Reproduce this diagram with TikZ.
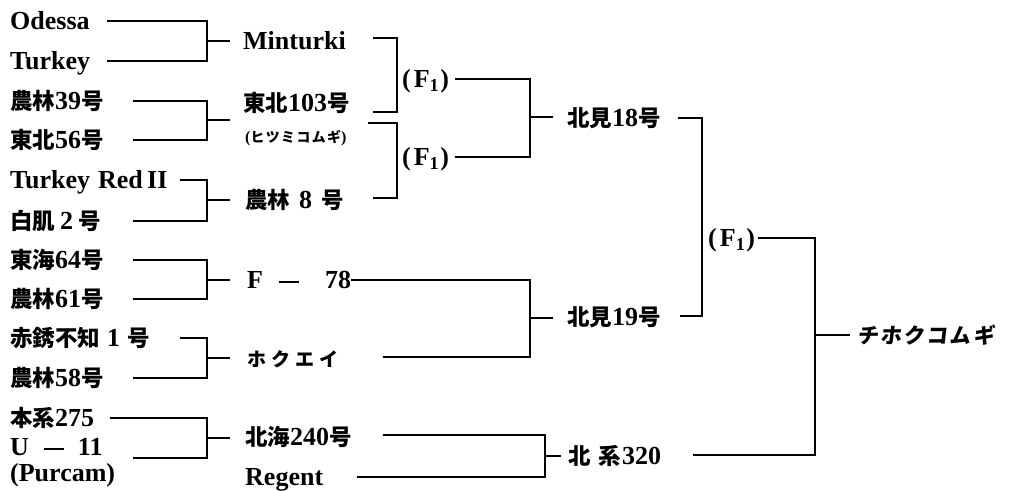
\documentclass[tikz,border=0pt]{standalone}
\usepackage{fontspec}
\setmainfont{Liberation Serif}
\newfontfamily\jp{Noto Sans CJK JP}[Scale=0.865]
\newfontfamily\jpsl{Noto Sans CJK JP}[Scale=0.865,FakeSlant=0.12]
\newcommand{\J}[1]{{\jp #1}}
\newcommand{\Fone}{(\hspace{3pt}F\textsubscript{1}\hspace{1pt})}
\begin{document}
\begin{tikzpicture}[x=1pt,y=-1pt,
  every node/.style={inner sep=0pt, anchor=west, text height=17pt, text depth=0pt,
    font=\fontsize{26}{30}\selectfont\bfseries},
  link/.style={line width=1.6pt, line join=miter},
  small/.style={text height=11pt, font=\fontsize{16}{18}\selectfont\bfseries},
  kata/.style={text height=16pt, font=\fontsize{22}{26}\selectfont\bfseries},
  katb/.style={text height=17pt, font=\fontsize{24.5}{28}\selectfont\bfseries}]
\useasboundingbox (0,0) rectangle (1011,490);

% ---- first column
\node (odessa) at (10,21)  {Odessa};
\node (turkey) at (10,61)  {Turkey};
\node (n39)    at (10,101) {\J{農林}39\J{号}};
\node (t56)    at (10,140) {\J{東北}56\J{号}};
\node (trd)    at (10,180) {Turkey\hspace{8pt}Red\,II};
\node (hk2)    at (10,221) {\J{白肌}\hspace{5pt}2\hspace{5pt}\J{号}};
\node (t64)    at (10,260) {\J{東海}64\J{号}};
\node (n61)    at (10,299) {\J{農林}61\J{号}};
\node (aks)    at (10,338) {\J{赤銹不知}\hspace{7pt}1\hspace{7pt}\J{号}};
\node (n58)    at (10,378) {\J{農林}58\J{号}};
\node (h275)   at (10,418) {\J{本系}275};
\node (u11)    at (10,447) {U\hspace{15pt}\rule[6pt]{20pt}{1.4pt}\hspace{14pt}11};
\node (purcam) at (10,473) {(Purcam)};

% ---- second column
\node (mint)    at (243,41)  {Minturki};
\node (t103)    at (243,103) {\J{東北}103\J{号}};
\node[small] (hitsumi) at (245,137) {(\J{ヒ\hspace{1.5pt}ツ\hspace{1.5pt}ミ\hspace{1.5pt}コ\hspace{1.5pt}ム\hspace{1.5pt}ギ})};
\node (n8)      at (245,200) {\J{農林}\hspace{9pt}8\hspace{9pt}\J{号}};
\node (f78)     at (247,280) {F\hspace{16pt}\rule[6pt]{20pt}{1.4pt}\hspace{26pt}78};
\node[kata] (hokuei) at (247,358) {\J{ホ\hspace{5pt}ク\hspace{5pt}エ\hspace{5pt}イ}};
\node (h240)    at (245,437) {\J{北海}240\J{号}};
\node (regent)  at (245,477) {Regent};

% ---- later columns
\node (f1a)   at (402,79)  {\Fone};
\node (f1b)   at (402,157) {\Fone};
\node (kit18) at (567,118) {\J{北見}18\J{号}};
\node (kit19) at (567,317) {\J{北見}19\J{号}};
\node (hk320) at (568,456) {\J{北}\hspace{8pt}\J{系}\hspace{1pt}320};
\node (f1c)   at (708,238) {\Fone};
\node[katb] (chiho) at (857,335) {{\jpsl チ\hspace{2pt}ホ\hspace{2pt}ク\hspace{2pt}コ\hspace{2pt}ム\hspace{2pt}ギ}};

% ---- named coordinates
\coordinate (xa) at (107,0);
\coordinate (xb) at (133,0);
\coordinate (xc) at (180,0);
\coordinate (xd) at (110,0);
\coordinate (pu) at (133,458);
\coordinate (j1) at (207,41);
\coordinate (j2) at (207,120);
\coordinate (j3) at (207,200);
\coordinate (j4) at (207,280);
\coordinate (j5) at (207,358);
\coordinate (j6) at (207,438);
\coordinate (a1) at (373,38);
\coordinate (a2) at (373,112);
\coordinate (jA) at (397,80);
\coordinate (b1) at (368,123);
\coordinate (b2) at (373,198);
\coordinate (jB) at (397,157);
\coordinate (jC) at (530,117);
\coordinate (d2) at (383,357);
\coordinate (jD) at (530,318);
\coordinate (e1) at (383,435);
\coordinate (e2) at (357,477);
\coordinate (jE) at (545,456);
\coordinate (k1) at (678,118);
\coordinate (k2) at (680,316);
\coordinate (jF) at (702,240);
\coordinate (g2) at (693,455);
\coordinate (jG) at (815,335);

% ---- first brackets
\draw[link] (odessa -| xa) -| (j1) |- (turkey -| xa);
\draw[link] (j1) -- ([xshift=-13pt]j1 -| mint.west);
\draw[link] (n39 -| xb) -| (j2) |- (t56 -| xb);
\draw[link] (j2) -- ([xshift=-13pt]j2 -| t103.west);
\draw[link] (trd -| xc) -| (j3) |- (hk2 -| xb);
\draw[link] (j3) -- ([xshift=-15pt]j3 -| n8.west);
\draw[link] (t64 -| xb) -| (j4) |- (n61 -| xb);
\draw[link] (j4) -- ([xshift=-17pt]j4 -| f78.west);
\draw[link] (aks -| xc) -| (j5) |- (n58 -| xb);
\draw[link] (j5) -- ([xshift=-17pt]j5 -| hokuei.west);
\draw[link] (h275 -| xd) -| (j6) |- (pu);
\draw[link] (j6) -- ([xshift=-15pt]j6 -| h240.west);

% ---- second brackets
\draw[link] (a1) -| (jA) |- (a2);
\draw[link] (b1) -| (jB) |- (b2);
\draw[link] ([xshift=6pt]f1a.east) -| (jC) |- ([xshift=6pt]f1b.east);
\draw[link] (jC) -- ([xshift=-14pt]jC -| kit18.west);
\draw[link] (f78.east) -| (jD) |- (d2);
\draw[link] (jD) -- ([xshift=-14pt]jD -| kit19.west);
\draw[link] (e1) -| (jE) |- (e2);
\draw[link] (jE) -- ([xshift=-7pt]jE -| hk320.west);

% ---- final brackets
\draw[link] (k1) -| (jF) |- (k2);
\draw[link] ([xshift=3pt]f1c.east) -| (jG) |- (g2);
\draw[link] (jG) -- ([xshift=-7pt]jG -| chiho.west);
\end{tikzpicture}
\end{document}
